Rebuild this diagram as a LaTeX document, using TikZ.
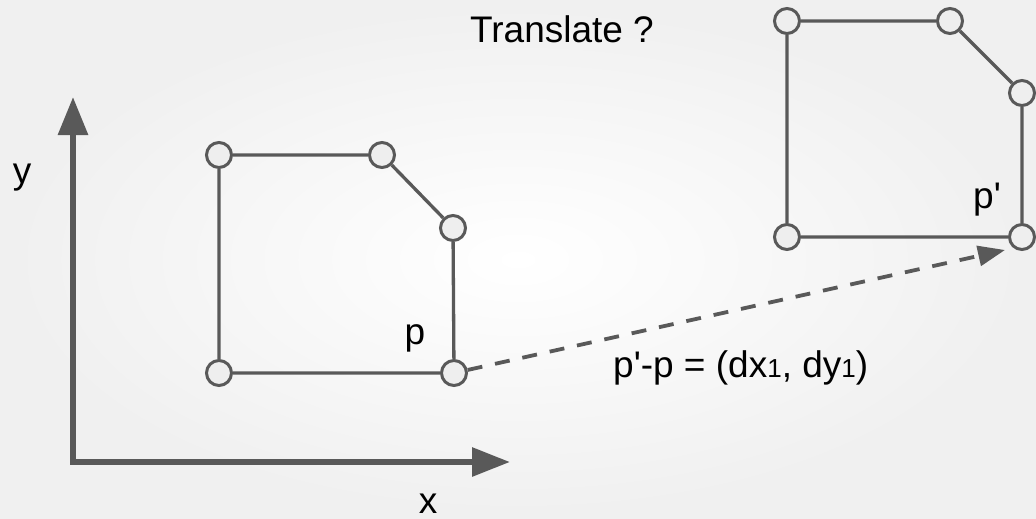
\documentclass[tikz,border=0pt]{standalone}
\usepackage{fontspec}
\setmainfont{Liberation Sans}
\usetikzlibrary{arrows.meta}
\definecolor{linegray}{HTML}{595959}
\definecolor{fillgray}{HTML}{EEEEEE}
\begin{document}
\begin{tikzpicture}[x=1pt,y=-1pt,
  vtx/.style={circle,draw=linegray,fill=fillgray,line width=3pt,minimum size=25pt,inner sep=0pt},
  edge/.style={draw=linegray,line width=3.3pt},
  axis/.style={draw=linegray,line width=6pt,{Triangle[length=38pt,width=29pt]}-{Triangle[length=38pt,width=28pt]}},
  lbl/.style={inner sep=0pt,font=\fontsize{37}{40}\selectfont,anchor=base},
  small/.style={}
]
\shade[inner color=white,outer color=black!6] (0,0) rectangle (1036,519);
\useasboundingbox (0,0) rectangle (1036,519);
% axes
\coordinate (ytip) at (73,97);
\coordinate (org) at (73,462);
\coordinate (xtip) at (510,462);
\draw[axis] (ytip) -- (org) -- (xtip);
% left polygon
\node[vtx] (a1) at (219,155) {};
\node[vtx] (a2) at (382,155) {};
\node[vtx] (a3) at (453,228) {};
\node[vtx] (a4) at (454,373) {};
\node[vtx] (a5) at (219,373) {};
\draw[edge] (a1) -- (a2) (a2) -- (a3) (a3) -- (a4) (a4) -- (a5) (a5) -- (a1);
% right polygon
\node[vtx] (b1) at (787,21) {};
\node[vtx] (b2) at (950,21) {};
\node[vtx] (b3) at (1022,93) {};
\node[vtx] (b4) at (1022,237) {};
\node[vtx] (b5) at (787,237) {};
\draw[edge] (b1) -- (b2) (b2) -- (b3) (b3) -- (b4) (b4) -- (b5) (b5) -- (b1);
% translation arrow
\coordinate (atip) at (1005,250);
\draw[draw=linegray,line width=3.8pt,dash pattern=on 15pt off 13pt,-{Triangle[length=27pt,width=20pt]}] (a4) -- (atip);
% labels
\node[lbl] (tt) at (562,43) {Translate ?};
\node[lbl] (ly) at (22,183) {y};
\node[lbl] (lx) at (428,513) {x};
\node[lbl] (lp) at (415,344) {p};
\node[lbl] (lpp) at (987,208) {p\textquotesingle};
\node[lbl,anchor=base west] (eq) at (613,377) {p\textquotesingle-p = (dx{\fontsize{26}{28}\selectfont 1}, dy{\fontsize{26}{28}\selectfont 1})};
\end{tikzpicture}
\end{document}
